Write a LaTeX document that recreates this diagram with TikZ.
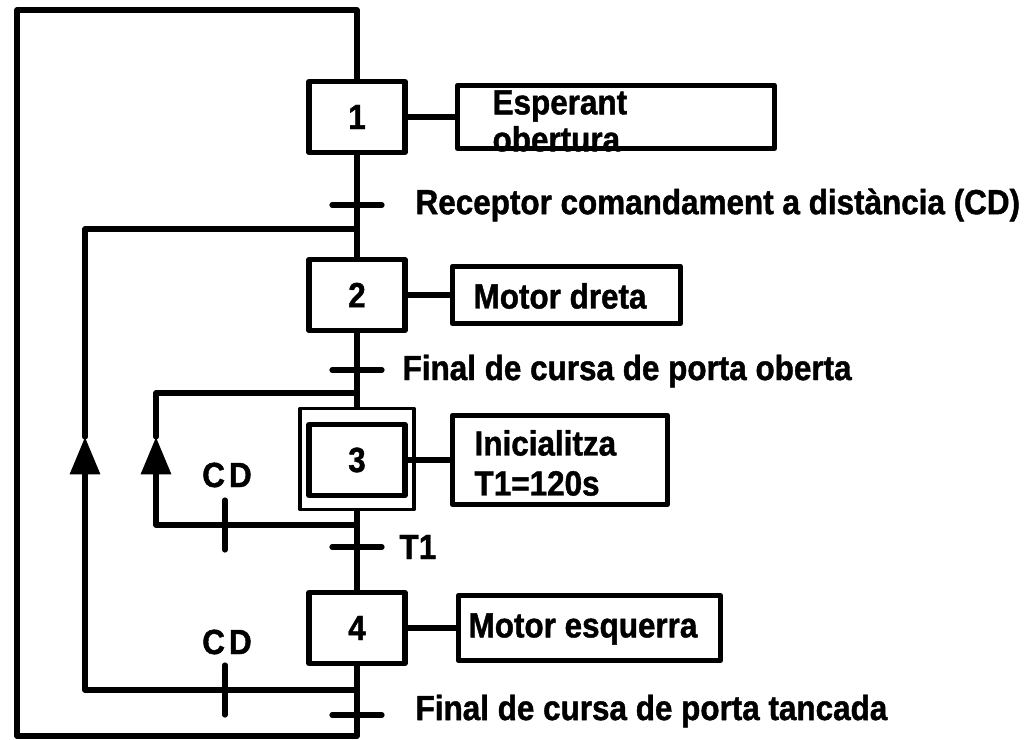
\documentclass[tikz,border=0pt]{standalone}
\usepackage{fontspec}
\setmainfont{Liberation Sans}[FakeStretch=0.9, BoldFeatures={FakeBold=1.2}]
\usetikzlibrary{arrows.meta}
\begin{document}
\begin{tikzpicture}[x=0.75pt,y=-0.75pt,
  line width=3.9pt, line cap=round, line join=round,
  every node/.style={font=\fontsize{26.2pt}{27.75pt}\selectfont\bfseries},
  stepbox/.style={draw, inner sep=0pt, minimum width=96*0.75pt, minimum height=71*0.75pt},
  actbox/.style={draw, inner sep=0pt},
  lbl/.style={anchor=west, inner sep=0pt},
  uptip/.style={-{Triangle[length=28pt,width=22pt]}}
]
\useasboundingbox (0,0) rectangle (1028,739);

% steps
\node[stepbox] (s1) at (357,117) {1};
\node[stepbox] (s2) at (357,295) {2};
\node[stepbox] (s3) at (357,460) {3};
\node[draw, line width=2.6pt, inner sep=0pt, minimum width=114*0.75pt, minimum height=101*0.75pt] (s3o) at (357,459) {};
\node[stepbox] (s4) at (357,628) {4};

% action boxes
\node[actbox, minimum width=317*0.75pt, minimum height=63*0.75pt] (a1) at (616,117) {};
\node[actbox, minimum width=228*0.75pt, minimum height=57*0.75pt] (a2) at (566.5,295) {};
\node[actbox, minimum width=215*0.75pt, minimum height=89*0.75pt] (a3) at (560,460) {};
\node[actbox, minimum width=262*0.75pt, minimum height=65*0.75pt] (a4) at (589.5,628) {};

% action texts
\node[lbl, align=left] (x1) at (490,121) {Esperant\\obertura};
\node[lbl] (x2) at (471,296) {Motor dreta};
\node[lbl, align=left, font=\fontsize{26.2pt}{30pt}\selectfont\bfseries] (x3) at (472,463) {Inicialitza\\T1=120s};
\node[lbl] (x4) at (466,629) {Motor esquerra};

% action links
\draw (s1.east) -- (s1.east -| a1.west);
\draw (s2.east) -- (s2.east -| a2.west);
\draw (s3.east) -- (s3.east -| a3.west);
\draw (s4.east) -- (s4.east -| a4.west);

% coordinates on spine
\coordinate (t1) at (357,205);
\coordinate (t2) at (357,370);
\coordinate (t3) at (357,547);
\coordinate (t4) at (357,715);
\coordinate (j2) at (357,229);
\coordinate (j3) at (357,393);
\coordinate (b3) at (357,525);
\coordinate (b2) at (357,690);
\coordinate (top) at (357,10);
\coordinate (o1) at (17,10);
\coordinate (o2) at (17,736);
\coordinate (o3) at (357,736);

% spine
\draw (s1.south) -- (s2.north);
\draw (s2.south) -- (s3o.north);
\draw (s3o.south) -- (s4.north);
\draw (s4.south) -- (o3) -- (o2) -- (o1) -- (top) -- (s1.north);

% transition bars
\foreach \t in {t1,t2,t3,t4} {\draw (\t) ++(-25,0) -- ++(50,0);}

% loop 2 (CD back to step 2)
\coordinate (l2b) at (85,690);
\coordinate (l2a) at (85,437);
\coordinate (l2t) at (85,229);
\draw[uptip] (b2) -- (l2b) -- (l2a);
\draw (l2a) -- (l2t) -- (j2);

% loop 3 (CD back to step 2 from step 3)
\coordinate (l3b) at (156,525);
\coordinate (l3a) at (156,437);
\coordinate (l3t) at (156,393);
\draw[uptip] (b3) -- (l3b) -- (l3a);
\draw (l3a) -- (l3t) -- (j3);

% CD transition bars
\draw (225,500) -- (225,550);
\draw (225,665) -- (225,715);

% labels
\node[lbl] (L1) at (413,205) {Receptor comandament a distància (CD)};
\node[lbl] (L2) at (400,371) {Final de cursa de porta oberta};
\node[lbl] (L3) at (397,547) {T1};
\node[lbl] (L4) at (413,711) {Final de cursa de porta tancada};
\node (cd3) at (227,475) {C\kern3pt D};
\node (cd2) at (227,642) {C\kern3pt D};
\end{tikzpicture}
\end{document}
